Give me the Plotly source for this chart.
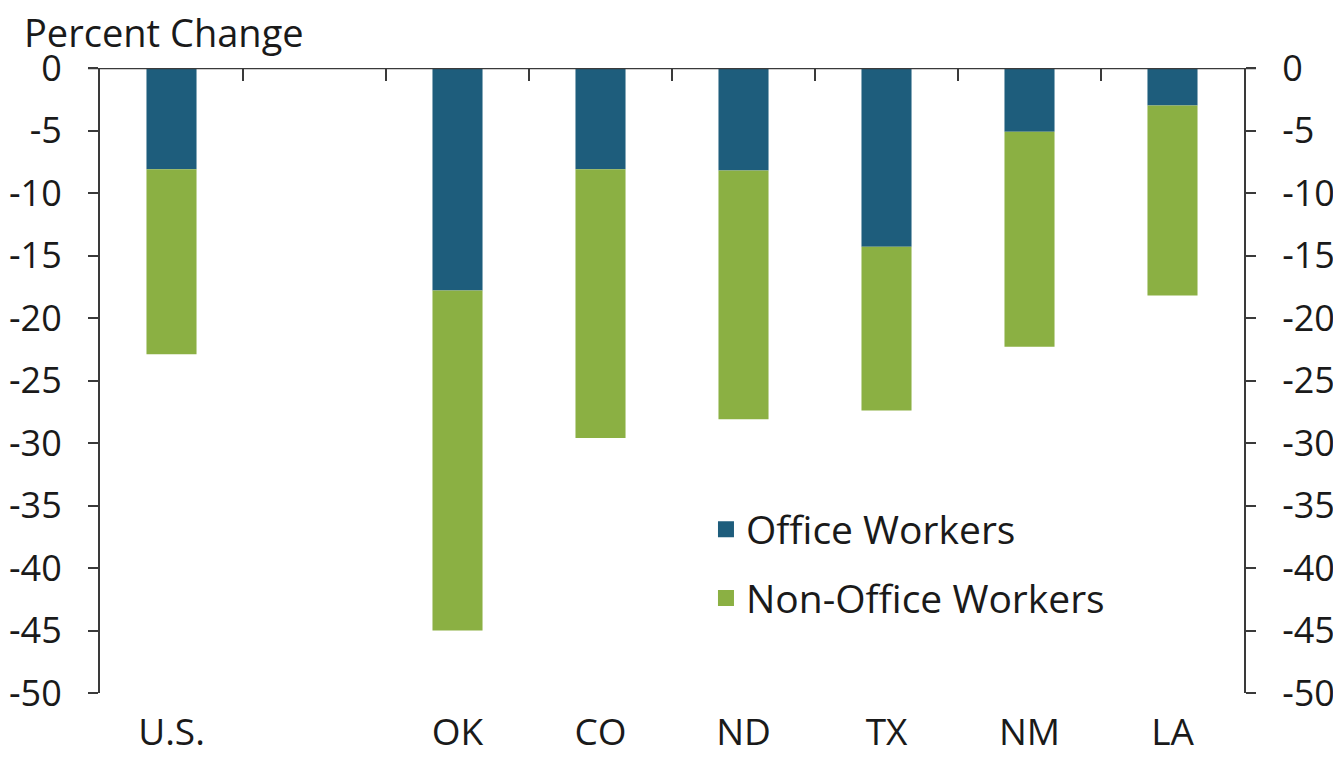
import plotly.graph_objects as go

categories = ["U.S.", "", "OK", "CO", "ND", "TX", "NM", "LA"]
office = [-8.1, None, -17.8, -8.1, -8.2, -14.3, -5.1, -3.0]
non_office = [-14.8, None, -27.2, -21.5, -19.9, -13.1, -17.2, -15.2]
y_ticks = [0, -5, -10, -15, -20, -25, -30, -35, -40, -45, -50]
y_tick_labels = ["0", "-5", "-10", "-15", "-20", "-25", "-30", "-35", "-40", "-45", "-50"]

BLUE = "#1E5D7C"
GREEN = "#8BB043"
AXIS = "#3A3A3A"
FONT = "Open Sans"

xpos = list(range(len(categories)))
totals = [None if o is None else o + n for o, n in zip(office, non_office)]

fig = go.Figure()
fig.add_trace(go.Bar(x=xpos, y=office, marker=dict(color=BLUE, line=dict(width=0)),
                     width=0.35, name="Office Workers", showlegend=False))
fig.add_trace(go.Bar(x=xpos, y=non_office, marker=dict(color=GREEN, line=dict(width=0)),
                     width=0.35, name="Non-Office Workers", showlegend=False))
# legend entries
fig.add_trace(go.Scatter(x=[None], y=[None], mode="markers", name="Office Workers",
                         marker=dict(symbol="square", size=16, color=BLUE),
                         legendgroup="a"))
fig.add_trace(go.Scatter(x=[None], y=[None], mode="markers", name="Non-Office Workers",
                         marker=dict(symbol="square", size=16, color=GREEN),
                         legendgroup="b"))
# dummy trace to show secondary axes (right y, top boundary ticks)
fig.add_trace(go.Scatter(x=xpos, y=totals, xaxis="x2", yaxis="y2", mode="markers",
                         marker=dict(opacity=0), showlegend=False, hoverinfo="skip"))

fig.update_layout(
    barmode="relative",
    width=1333, height=760,
    margin=dict(l=92, r=97, t=60, b=75, autoexpand=False),
    paper_bgcolor="white", plot_bgcolor="white",
    font=dict(family=FONT, color="#1a1a1a"),
    xaxis=dict(range=[-0.5, len(categories) - 0.5], tickvals=xpos, ticktext=categories,
               showgrid=False, zeroline=False, showline=False, ticks="", automargin=False,
               tickfont=dict(size=37, family=FONT), ticklabelstandoff=14),
    xaxis2=dict(overlaying="x", side="top", matches="x", range=[-0.5, len(categories) - 0.5],
                tickvals=[i + 0.5 for i in xpos[:-1]], showticklabels=False, automargin=False,
                ticks="inside", ticklen=13, tickwidth=2, tickcolor=AXIS,
                showgrid=False, zeroline=False, showline=False),
    yaxis=dict(range=[-50, 0], tickvals=y_ticks, ticktext=y_tick_labels,
               showgrid=False, zeroline=False, automargin=False,
               showline=True, linecolor=AXIS, linewidth=2,
               ticks="outside", ticklen=10, tickwidth=2, tickcolor=AXIS,
               tickfont=dict(size=36, family=FONT), ticklabelstandoff=19),
    yaxis2=dict(overlaying="y", side="right", range=[-50, 0], tickvals=y_ticks,
                ticktext=y_tick_labels, showgrid=False, zeroline=False, automargin=False,
                showline=True, linecolor=AXIS, linewidth=2,
                ticks="outside", ticklen=10, tickwidth=2, tickcolor=AXIS,
                tickfont=dict(size=36, family=FONT), ticklabelstandoff=19),
    legend=dict(x=0.5297, y=0.313, xanchor="left", yanchor="top",
                font=dict(size=39, family=FONT), tracegroupgap=15,
                bgcolor="rgba(0,0,0,0)", itemclick=False),
    shapes=[dict(type="line", xref="paper", yref="y", x0=-0.0105, x1=1.0105, y0=0, y1=0,
                 line=dict(color=AXIS, width=2.5), layer="above")],
    annotations=[dict(text="Percent Change", xref="paper", yref="paper",
                      x=-0.0682, y=1.058, xanchor="left", yanchor="middle",
                      showarrow=False, font=dict(size=38, family=FONT))],
    showlegend=True,
)

fig.write_html("out.html")
